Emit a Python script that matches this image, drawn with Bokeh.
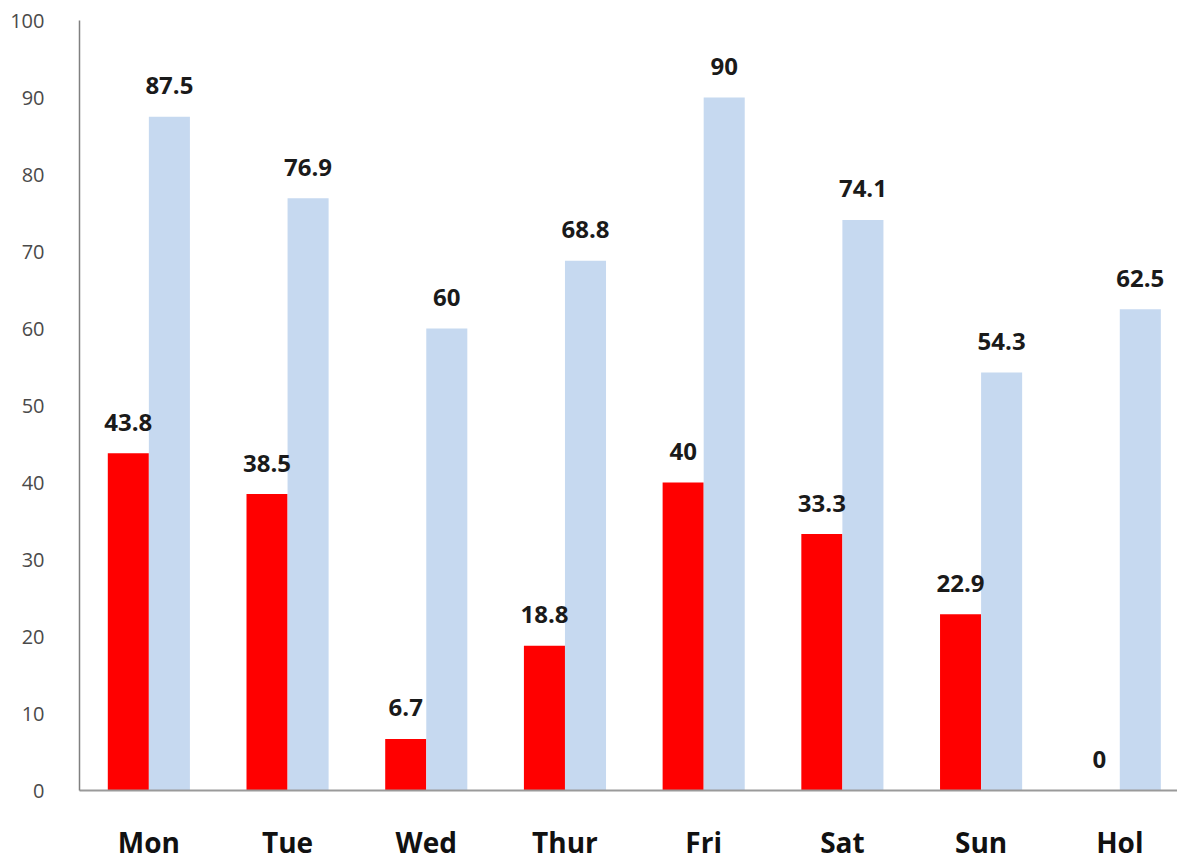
import numpy as np
from bokeh.plotting import figure
from bokeh.models import ColumnDataSource, FixedTicker
from bokeh.core.properties import value
from bokeh.embed import file_html
from bokeh.resources import INLINE

days = ["Mon", "Tue", "Wed", "Thur", "Fri", "Sat", "Sun", "Hol"]
red_vals = [43.8, 38.5, 6.7, 18.8, 40, 33.3, 22.9, 0]
blue_vals = [87.5, 76.9, 60, 68.8, 90, 74.1, 54.3, 62.5]
y_ticks = [0, 10, 20, 30, 40, 50, 60, 70, 80, 90, 100]

idx = np.arange(len(days))
bw = 0.296
fmt = lambda v: ("%g" % v)

red_src = ColumnDataSource(dict(x=idx - bw / 2, top=red_vals, lab=[fmt(v) for v in red_vals]))
blue_src = ColumnDataSource(dict(x=idx + bw / 2, top=blue_vals, lab=[fmt(v) for v in blue_vals]))

p = figure(width=1177, height=863, output_backend="svg", toolbar_location=None,
           x_range=(-0.5, 7.416), y_range=(0, 100),
           min_border_left=79, min_border_right=0, min_border_top=20, min_border_bottom=70)
p.outline_line_color = None
p.background_fill_color = "white"
p.border_fill_color = "white"
p.xgrid.visible = False
p.ygrid.visible = False

p.vbar(x="x", top="top", width=bw, source=red_src, color="#ff0000", line_color=None)
p.vbar(x="x", top="top", width=bw, source=blue_src, color="#c6d9f0", line_color=None)

for src in (red_src, blue_src):
    p.text(x="x", y="top", text="lab", source=src, text_align="center", text_baseline="middle",
           y_offset=-31, text_font=value("Open Sans"), text_font_style="bold",
           text_font_size="24px", text_color="#1a1a1a")

# y axis
p.yaxis.ticker = FixedTicker(ticks=y_ticks)
p.yaxis.major_tick_line_color = None
p.yaxis.minor_tick_line_color = None
p.yaxis.axis_line_color = "#808080"
p.yaxis.axis_line_width = 1.5
p.yaxis.major_label_standoff = 29
p.yaxis.major_label_text_font = "Open Sans"
p.yaxis.major_label_text_font_size = "20px"
p.yaxis.major_label_text_color = "#4a4a4a"

# x axis
p.xaxis.ticker = FixedTicker(ticks=list(idx))
p.xaxis.major_label_overrides = {int(i): d for i, d in zip(idx, days)}
p.xaxis.major_tick_line_color = None
p.xaxis.minor_tick_line_color = None
p.xaxis.axis_line_color = "#9a9a9a"
p.xaxis.axis_line_width = 2
p.xaxis.major_label_standoff = 26
p.xaxis.major_label_text_font = "Open Sans"
p.xaxis.major_label_text_font_style = "bold"
p.xaxis.major_label_text_font_size = "28px"
p.xaxis.major_label_text_color = "#111111"

open("out.html", "w").write(file_html(p, INLINE))
